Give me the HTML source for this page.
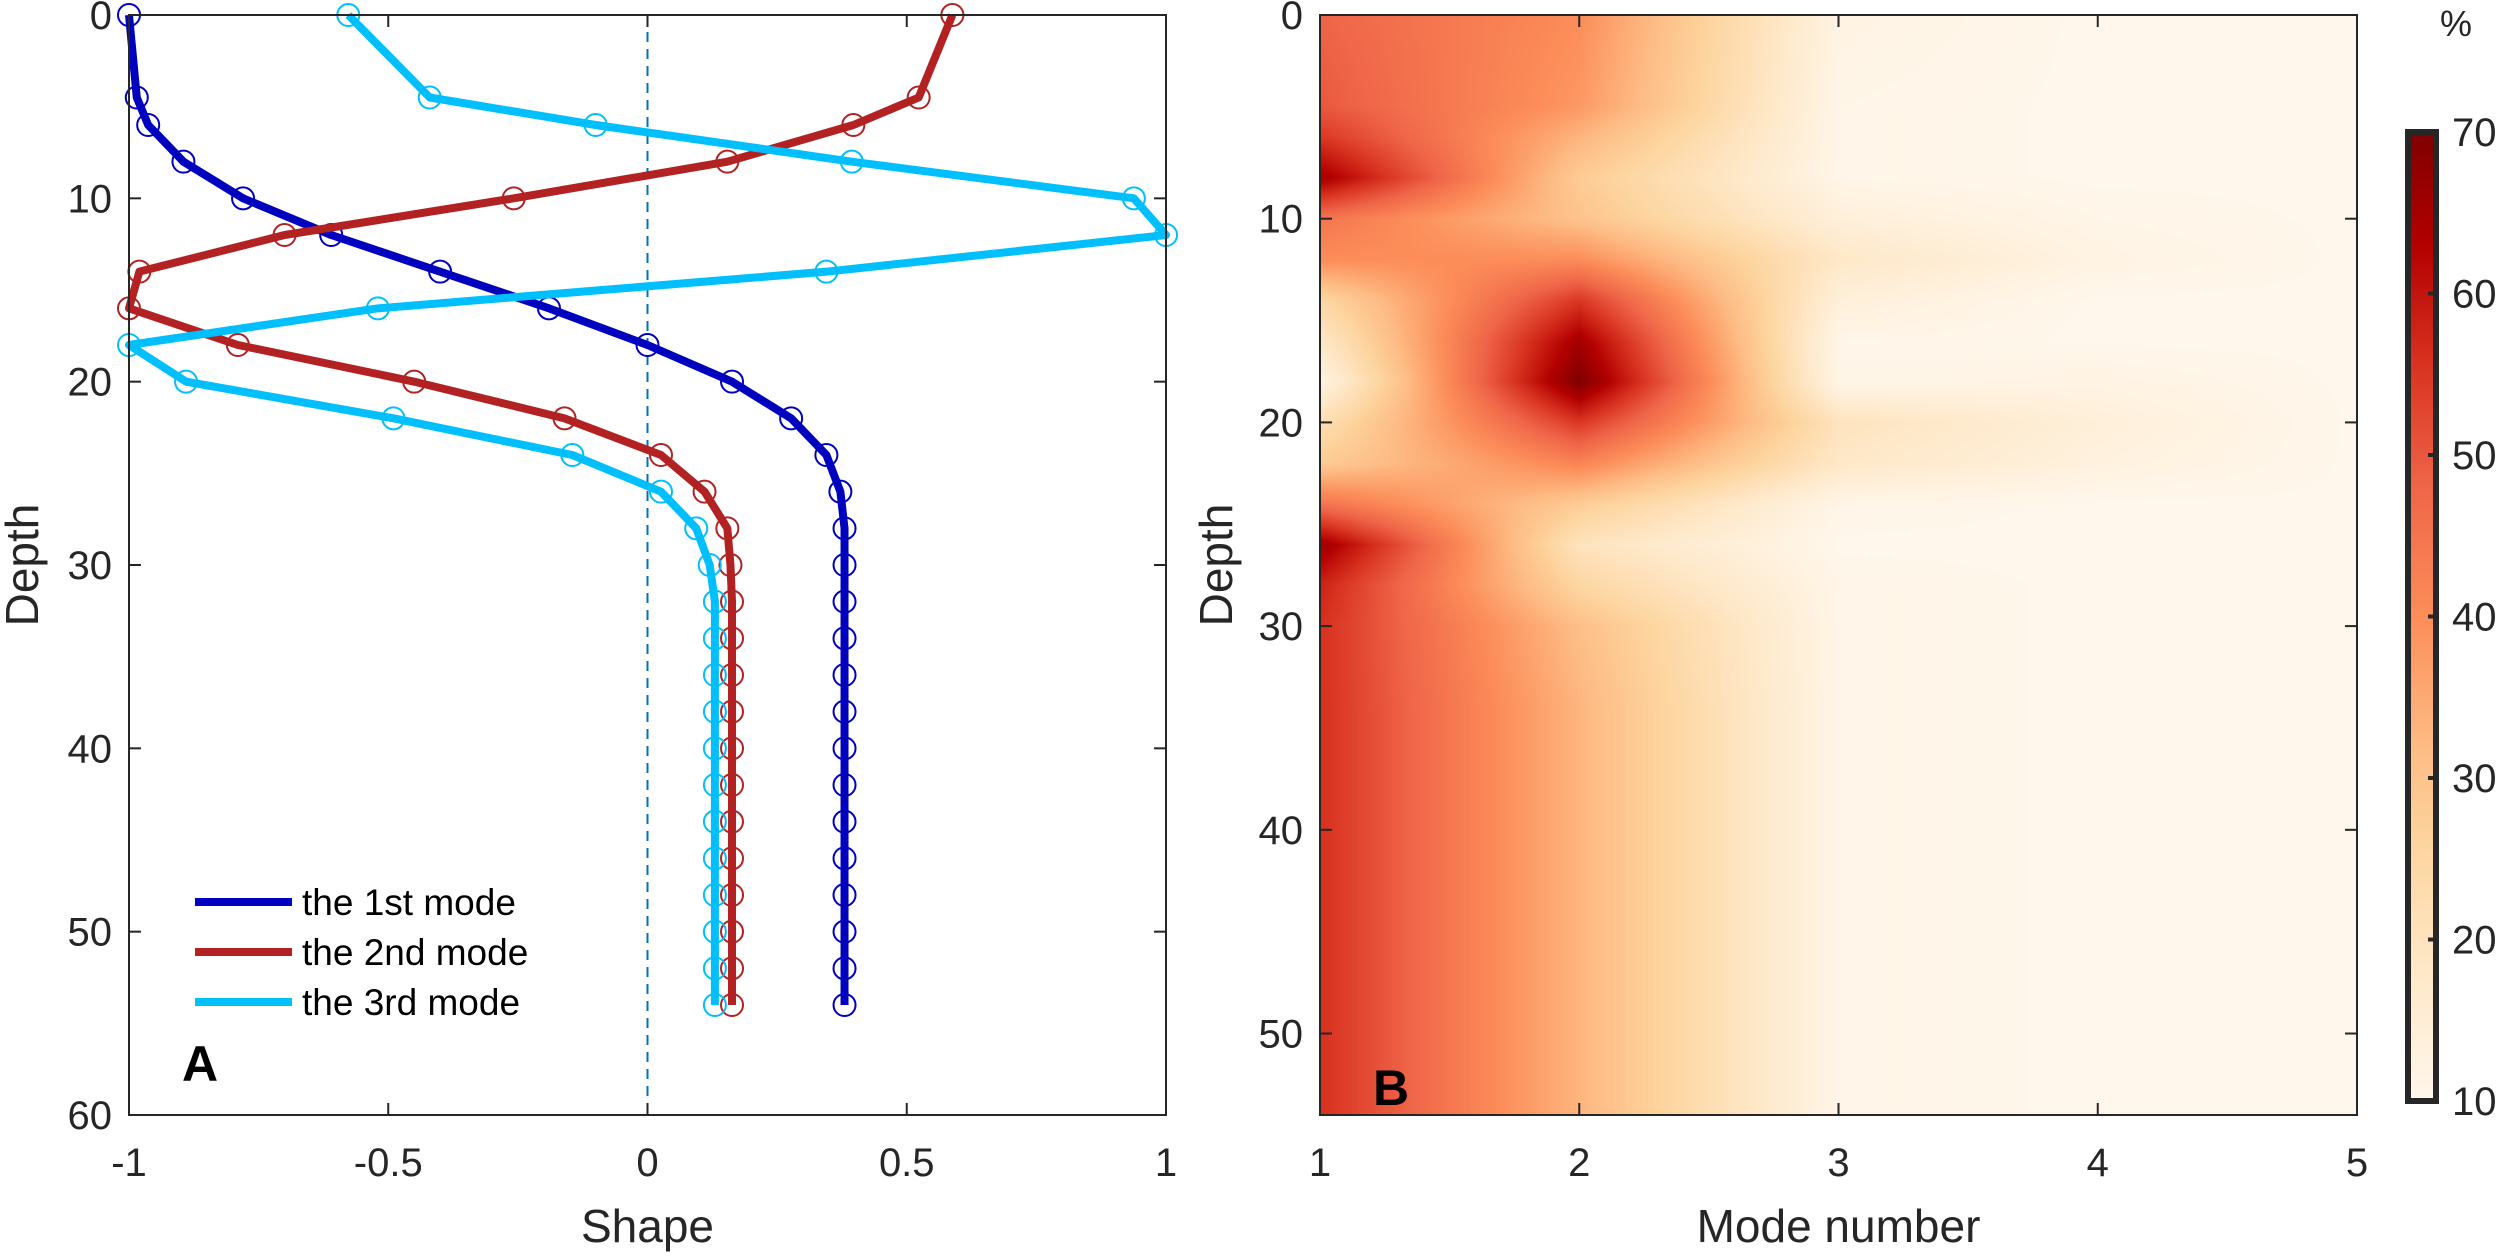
<!DOCTYPE html>
<html><head><meta charset="utf-8"><style>
html,body{margin:0;padding:0;background:#fff;}
#wrap{position:relative;width:2500px;height:1256px;overflow:hidden;font-family:"Liberation Sans",sans-serif;}
#heat{position:absolute;left:1320px;top:15px;}
#svg{position:absolute;left:0;top:0;}
</style></head><body>
<div id="wrap">
<canvas id="heat" width="1037" height="1100"></canvas>
<svg id="svg" width="2500" height="1256" xmlns="http://www.w3.org/2000/svg"></svg>
</div>
<script>
// ---- Panel A data ----
const depths = [0,4.5,6,8,10,12,14,16,18,20,22,24,26,28,30,32,34,36,38,40,42,44,46,48,50,52,54];
const mode1 = [-1.0,-0.985,-0.963,-0.895,-0.78,-0.61,-0.40,-0.19,0.0,0.163,0.277,0.345,0.372,0.38,0.38,0.38,0.38,0.38,0.38,0.38,0.38,0.38,0.38,0.38,0.38,0.38,0.38];
const mode2 = [0.588,0.523,0.397,0.154,-0.258,-0.70,-0.98,-1.0,-0.79,-0.45,-0.16,0.026,0.11,0.154,0.16,0.163,0.163,0.163,0.163,0.163,0.163,0.163,0.163,0.163,0.163,0.163,0.163];
const mode3 = [-0.577,-0.42,-0.10,0.394,0.938,1.0,0.345,-0.52,-1.0,-0.89,-0.49,-0.145,0.026,0.094,0.12,0.13,0.13,0.13,0.13,0.13,0.13,0.13,0.13,0.13,0.13,0.13,0.13];
const seriesNames = ["the 1st mode","the 2nd mode","the 3rd mode"];
const xTicksA = [-1,-0.5,0,0.5,1];
const xTickLabelsA = ["-1","-0.5","0","0.5","1"];
const yTicksA = [0,10,20,30,40,50,60];
// ---- Panel B data ----
const modes = [1,2,3,4,5];
const heatDepths = [0,4.5,6,8,10,12,14,16,18,20,22,24,26,28,30,32,34,36,38,40,42,44,46,48,50,52,54];
const varMode1 = [48,50,55,65,45,40,25,18,12,22,28,45,66,58,56,56,56,56,56,56,56,56,56,56,56,56,56];
const varMode2 = [40,38,33,28,30,40,55,65,70,55,42,28,20,25,31,32,33,33,33,33,33,33,33,33,33,33,33];
const varMode3 = [12,11,11,11,14,18,14,11,11,20,18,11,10,11,11,11,11,11,11,11,11,11,11,11,11,11,11];
const varMode4 = [10,10,10,10,11,12,10,10,12,14,13,10,10,10,10,10,10,10,10,10,10,10,10,10,10,10,10];
const varMode5 = [10,10,10,10,10,10,10,10,10,10,10,10,10,10,10,10,10,10,10,10,10,10,10,10,10,10,10];
const xTicksB = [1,2,3,4,5];
const yTicksB = [0,10,20,30,40,50];
const cbTicks = [10,20,30,40,50,60,70];

const NS="http://www.w3.org/2000/svg";
const svg=document.getElementById('svg');
function mk(tag,attrs,parent){const e=document.createElementNS(NS,tag);for(const k in attrs)e.setAttribute(k,attrs[k]);(parent||svg).appendChild(e);return e;}
const AX='#262626';

const A={x0:129,x1:1166,y0:15,y1:1115};
const xA=v=>A.x0+(v+1)/2*(A.x1-A.x0);
const yA=d=>A.y0+d/60*(A.y1-A.y0);
const B={x0:1320,x1:2357,y0:15,y1:1115};
const xB=m=>B.x0+(m-1)/4*(B.x1-B.x0);
const yB=d=>B.y0+d/54*(B.y1-B.y0);
const CB={x0:2408,x1:2436,y0:132,y1:1101};
const yCB=v=>CB.y1-(v-10)/60*(CB.y1-CB.y0);

const stops=[[10,[255,247,236]],[18,[254,232,200]],[26,[253,212,158]],[32,[253,187,132]],[40,[252,141,89]],[48,[239,101,72]],[56,[215,48,31]],[63,[179,0,0]],[70,[127,0,0]]];
function cmap(v){v=Math.max(10,Math.min(70,v));for(let i=0;i<stops.length-1;i++){const a=stops[i],b=stops[i+1];if(v<=b[0]){const t=(v-a[0])/(b[0]-a[0]);return [0,1,2].map(k=>Math.round(a[1][k]+t*(b[1][k]-a[1][k])));}}return stops[stops.length-1][1];}

// ===== Panel A =====
const gA=mk('g',{});


const zl=mk('line',{x1:xA(0),x2:xA(0),y1:A.y0,y2:A.y1,stroke:'#0072BD','stroke-width':2,'stroke-dasharray':'10,7'},gA);


const cols=['#0000BF','#B22222','#00BFFF'];
[mode1,mode2,mode3].forEach((s,i)=>{
  const g=mk('g',{},gA);
  
  
  const pts=s.map((v,j)=>xA(v)+','+yA(depths[j])).join(' ');
  const pl=mk('polyline',{points:pts,fill:'none',stroke:cols[i],'stroke-width':8,'stroke-linejoin':'round'},g);
  
  
  s.forEach((v,j)=>{
    const c=mk('circle',{cx:xA(v),cy:yA(depths[j]),r:11,fill:'none',stroke:cols[i],'stroke-width':2},g);
    
    
  });
});
const fa=mk('rect',{x:A.x0,y:A.y0,width:A.x1-A.x0,height:A.y1-A.y0,fill:'none',stroke:AX,'stroke-width':2},gA);


xTicksA.forEach((t,i)=>{
  const x=xA(t);
  mk('line',{x1:x,x2:x,y1:A.y1,y2:A.y1-12,stroke:AX,'stroke-width':2},gA);
  mk('line',{x1:x,x2:x,y1:A.y0,y2:A.y0+12,stroke:AX,'stroke-width':2},gA);
  const tx=mk('text',{x:x,y:1176,'font-size':40,'text-anchor':'middle',fill:AX},gA);
  tx.textContent=xTickLabelsA[i];
  
  
});
yTicksA.forEach(t=>{
  const y=yA(t);
  mk('line',{x1:A.x0,x2:A.x0+12,y1:y,y2:y,stroke:AX,'stroke-width':2},gA);
  mk('line',{x1:A.x1,x2:A.x1-12,y1:y,y2:y,stroke:AX,'stroke-width':2},gA);
  const tx=mk('text',{x:112,y:y+14,'font-size':40,'text-anchor':'end',fill:AX},gA);
  tx.textContent=t;
  
  
});
let t=mk('text',{x:xA(0),y:1242,'font-size':46,'text-anchor':'middle',fill:AX},gA);t.textContent='Shape';


t=mk('text',{x:38,y:565,'font-size':46,'text-anchor':'middle',fill:AX,transform:'rotate(-90 38 565)'},gA);t.textContent='Depth';


t=mk('text',{x:182,y:1081,'font-size':50,'font-weight':'bold',fill:'#000'},gA);t.textContent='A';


const lg=mk('g',{},gA);


seriesNames.forEach((n,i)=>{
  const y=902+i*50;
  const e=mk('g',{},lg);
  
  
  mk('line',{x1:195,x2:292,y1:y,y2:y,stroke:cols[i],'stroke-width':8},e);
  const tt=mk('text',{x:302,y:y+13,'font-size':37,fill:'#000'},e);tt.textContent=n;
});

// ===== Panel B =====
const grid=[varMode1,varMode2,varMode3,varMode4,varMode5];
(function(){
  const cv=document.getElementById('heat');const ctx=cv.getContext('2d');
  const W=cv.width,H=cv.height;const img=ctx.createImageData(W,H);
  function val(m,d){
    let i=0;while(i<modes.length-2&&m>modes[i+1])i++;
    let j=0;while(j<heatDepths.length-2&&d>heatDepths[j+1])j++;
    const tx=Math.max(0,Math.min(1,(m-modes[i])/(modes[i+1]-modes[i])));
    const ty=Math.max(0,Math.min(1,(d-heatDepths[j])/(heatDepths[j+1]-heatDepths[j])));
    const a=grid[i][j],b=grid[i+1][j],c=grid[i][j+1],e=grid[i+1][j+1];
    return a*(1-tx)*(1-ty)+b*tx*(1-ty)+c*(1-tx)*ty+e*tx*ty;
  }
  for(let py=0;py<H;py++){const d=(py+0.5)/H*54;
    for(let px=0;px<W;px++){const m=1+(px+0.5)/W*4;const c=cmap(val(m,d));const k=(py*W+px)*4;
      img.data[k]=c[0];img.data[k+1]=c[1];img.data[k+2]=c[2];img.data[k+3]=255;}}
  ctx.putImageData(img,0,0);
})();
const gB=mk('g',{});


const fb=mk('rect',{x:B.x0,y:B.y0,width:B.x1-B.x0,height:B.y1-B.y0,fill:'none',stroke:AX,'stroke-width':2},gB);


xTicksB.forEach(v=>{
  const x=xB(v);
  mk('line',{x1:x,x2:x,y1:B.y1,y2:B.y1-12,stroke:AX,'stroke-width':2},gB);
  mk('line',{x1:x,x2:x,y1:B.y0,y2:B.y0+12,stroke:AX,'stroke-width':2},gB);
  const tx=mk('text',{x:x,y:1176,'font-size':40,'text-anchor':'middle',fill:AX},gB);tx.textContent=v;
  
  
});
yTicksB.forEach(v=>{
  const y=yB(v);
  mk('line',{x1:B.x0,x2:B.x0+12,y1:y,y2:y,stroke:AX,'stroke-width':2},gB);
  mk('line',{x1:B.x1,x2:B.x1-12,y1:y,y2:y,stroke:AX,'stroke-width':2},gB);
  const tx=mk('text',{x:1303,y:y+14,'font-size':40,'text-anchor':'end',fill:AX},gB);tx.textContent=v;
  
  
});
t=mk('text',{x:xB(3),y:1242,'font-size':46,'text-anchor':'middle',fill:AX},gB);t.textContent='Mode number';


t=mk('text',{x:1232,y:565,'font-size':46,'text-anchor':'middle',fill:AX,transform:'rotate(-90 1232 565)'},gB);t.textContent='Depth';


t=mk('text',{x:1373,y:1105,'font-size':50,'font-weight':'bold',fill:'#000'},gB);t.textContent='B';



const gC=mk('g',{});


const defs=mk('defs',{},gC);
const lgd=mk('linearGradient',{id:'cbg',x1:0,y1:1,x2:0,y2:0},defs);
stops.forEach(s=>{mk('stop',{offset:((s[0]-10)/60),'stop-color':'rgb('+s[1].join(',')+')'},lgd);});
const cbr=mk('rect',{x:CB.x0,y:CB.y0,width:CB.x1-CB.x0,height:CB.y1-CB.y0,fill:'url(#cbg)',stroke:AX,'stroke-width':6},gC);


cbTicks.forEach(v=>{
  const y=yCB(v);
  mk('line',{x1:CB.x1-8,x2:CB.x1,y1:y,y2:y,stroke:AX,'stroke-width':4},gC);
  const tx=mk('text',{x:2452,y:y+14,'font-size':40,fill:AX},gC);tx.textContent=v;
  
  
});
t=mk('text',{x:2440,y:36,'font-size':36,fill:AX},gC);t.textContent='%';


</script>
</body></html>
